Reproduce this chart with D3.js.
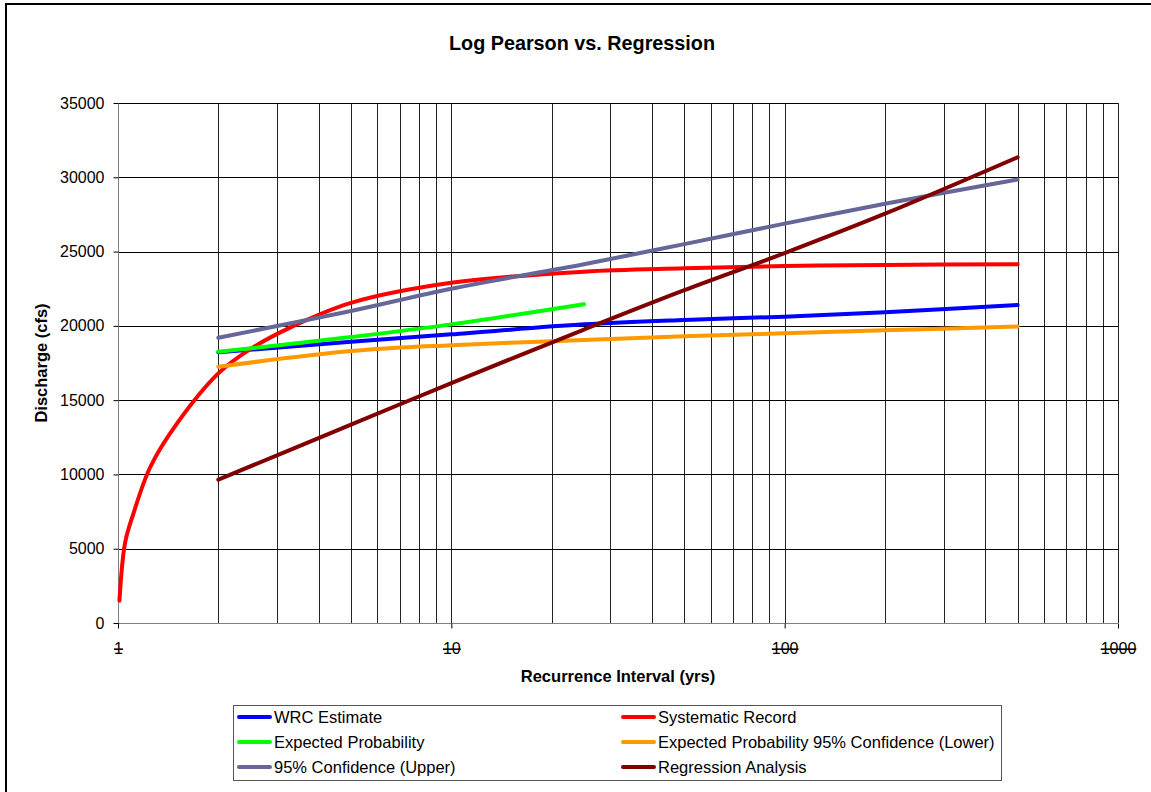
<!DOCTYPE html>
<html>
<head>
<meta charset="utf-8">
<script src="https://cdn.jsdelivr.net/npm/d3@7"></script>
<style>
  html, body { margin: 0; padding: 0; background: #fff; }
  svg { display: block; font-family: Arial, "Liberation Sans", sans-serif; }
</style>
</head>
<body>
<svg id="chart" width="1151" height="792"></svg>
<script>
// ---- data ----
const title = "Log Pearson vs. Regression";
const xTitle = "Recurrence Interval (yrs)";
const yTitle = "Discharge (cfs)";
const xTickValues = [1, 10, 100, 1000];
const yTickValues = [0, 5000, 10000, 15000, 20000, 25000, 30000, 35000];

const intervals = [2, 5, 10, 25, 50, 100, 200, 500];
const wrcEstimate = [18220, 18930, 19430, 20100, 20400, 20620, 20910, 21400];
const expectedProbIntervals = [2, 5, 10, 25];
const expectedProb = [18250, 19250, 20100, 21450];
const expProbLower = [17250, 18300, 18700, 19050, 19300, 19500, 19700, 19950];
const confUpper = [19200, 21000, 22500, 24150, 25500, 26880, 28220, 29850];
const regression = [9650, 13350, 16150, 19750, 22400, 24900, 27550, 31350];

const systematicIntervals = [1.01, 1.05, 1.11, 1.25, 1.5, 2, 2.5, 3.33, 5, 10, 25, 50, 100, 200, 500];
const systematicRecord = [1500, 5400, 7300, 10500, 13400, 16800, 18450, 19950, 21550, 22900, 23650, 23870, 24030, 24100, 24150];

const seriesNames = ["WRC Estimate", "Systematic Record", "Expected Probability",
  "Expected Probability 95% Confidence (Lower)", "95% Confidence (Upper)", "Regression Analysis"];
const seriesColors = ["#0000FF", "#FF0000", "#00FF00", "#FF9900", "#666699", "#800000"];

const series = [
  { name: seriesNames[0], color: seriesColors[0], xs: intervals, ys: wrcEstimate },
  { name: seriesNames[1], color: seriesColors[1], xs: systematicIntervals, ys: systematicRecord },
  { name: seriesNames[2], color: seriesColors[2], xs: expectedProbIntervals, ys: expectedProb },
  { name: seriesNames[3], color: seriesColors[3], xs: intervals, ys: expProbLower },
  { name: seriesNames[4], color: seriesColors[4], xs: intervals, ys: confUpper },
  { name: seriesNames[5], color: seriesColors[5], xs: intervals, ys: regression }
];

// ---- drawing ----
const svg = d3.select("#chart");
const x = d3.scaleLog().domain([1, 1000]).range([118, 1118]);
const y = d3.scaleLinear().domain([0, 35000]).range([623, 103]);

// outer border
svg.append("rect").attr("x", 6).attr("y", 4).attr("width", 1200).attr("height", 820)
  .attr("fill", "#fff").attr("stroke", "#000").attr("stroke-width", 2);

// title
svg.append("text").attr("x", 582).attr("y", 50).attr("text-anchor", "middle")
  .attr("font-size", 19.8).attr("font-weight", "bold").text(title);

// grid
const grid = svg.append("g");
const minorX = [];
for (let d = 1; d < 1000; d *= 10) for (let k = 1; k <= 9; k++) minorX.push(d * k);
minorX.push(1000);
grid.selectAll("line.v").data(minorX.filter(v => v > 1)).enter().append("line")
  .attr("x1", d => Math.round(x(d)) + 0.5).attr("x2", d => Math.round(x(d)) + 0.5)
  .attr("y1", y(35000)).attr("y2", y(0))
  .attr("stroke", "#222").attr("stroke-width", 1);
grid.selectAll("line.h").data(yTickValues.filter(v => v > 0)).enter().append("line")
  .attr("x1", x(1)).attr("x2", x(1000))
  .attr("y1", d => Math.round(y(d)) + 0.5).attr("y2", d => Math.round(y(d)) + 0.5)
  .attr("stroke", "#000").attr("stroke-width", 1);

// axes
const xAxis = d3.axisBottom(x).tickValues(xTickValues).tickFormat(d3.format("d"))
  .tickSize(5).tickPadding(14);
const gx = svg.append("g").attr("transform", `translate(0,${Math.round(y(0)) + 0.5})`).call(xAxis);
gx.select(".domain").attr("stroke", "#808080").attr("d", `M${x(1)},0H${x(1000)}`);
gx.selectAll(".tick line").attr("stroke", "#000");
gx.selectAll(".tick text").attr("font-size", 16).attr("fill", "#000")
  .attr("font-family", "Arial, 'Liberation Sans', sans-serif")
  .style("text-decoration", "line-through");

const yAxis = d3.axisLeft(y).tickValues(yTickValues).tickFormat(d3.format("d"))
  .tickSize(5).tickPadding(9);
const gy = svg.append("g").attr("transform", `translate(${Math.round(x(1)) + 0.5},0)`).call(yAxis);
gy.select(".domain").attr("stroke", "#808080").attr("d", `M0,${y(35000)}V${y(0)}`);
gy.selectAll(".tick line").attr("stroke", "#000");
gy.selectAll(".tick text").attr("font-size", 16).attr("fill", "#000")
  .attr("font-family", "Arial, 'Liberation Sans', sans-serif");

// axis titles
svg.append("text").attr("x", 618).attr("y", 682).attr("text-anchor", "middle")
  .attr("font-size", 16.5).attr("font-weight", "bold").text(xTitle);
svg.append("text").attr("transform", "translate(47,363) rotate(-90)").attr("text-anchor", "middle")
  .attr("font-size", 16.5).attr("font-weight", "bold").text(yTitle);

// lines
const line = d3.line().x(d => x(d[0])).y(d => y(d[1])).curve(d3.curveCatmullRom.alpha(0.5));
svg.append("g").selectAll("path").data(series).enter().append("path")
  .attr("d", s => line(s.xs.map((v, i) => [v, s.ys[i]])))
  .attr("fill", "none").attr("stroke", s => s.color).attr("stroke-width", 4)
  .attr("stroke-linecap", "round").attr("stroke-linejoin", "round");

// legend
const lg = svg.append("g");
lg.append("rect").attr("x", 233.5).attr("y", 705.5).attr("width", 768).attr("height", 75)
  .attr("fill", "#fff").attr("stroke", "#555").attr("stroke-width", 1);
series.forEach((s, i) => {
  const col = i % 2, row = Math.floor(i / 2);
  const lx = col === 0 ? 239 : 623;
  const ly = 717 + row * 25;
  lg.append("line").attr("x1", lx).attr("x2", lx + 31).attr("y1", ly).attr("y2", ly)
    .attr("stroke", s.color).attr("stroke-width", 4).attr("stroke-linecap", "round");
  lg.append("text").attr("x", lx + 35).attr("y", ly).attr("dy", "0.35em")
    .attr("font-size", 16.5).text(s.name);
});
</script>
</body>
</html>
